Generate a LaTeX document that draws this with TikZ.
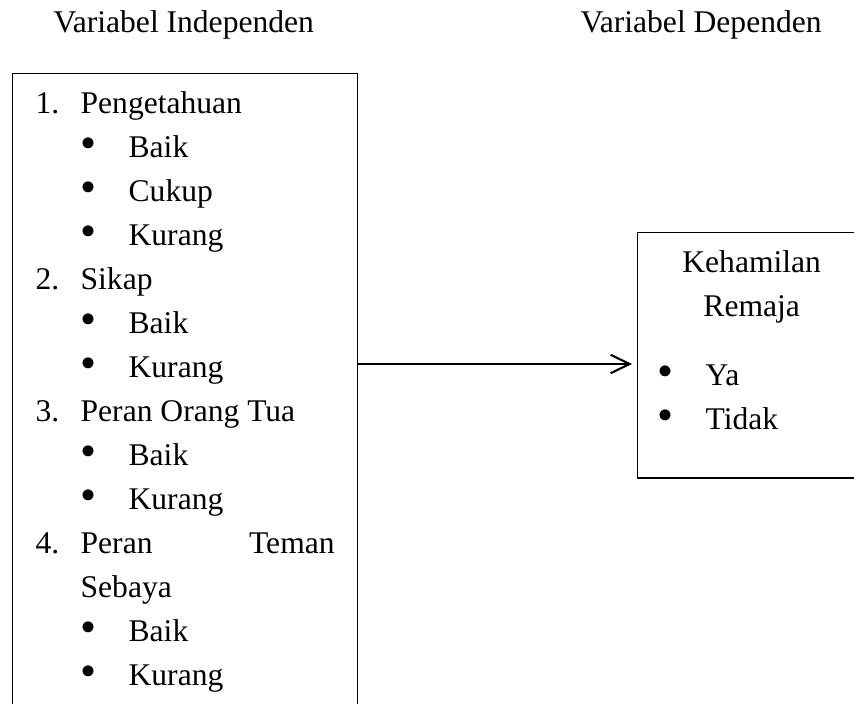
\documentclass[tikz,border=0pt]{standalone}
\usepackage{fontspec}
\setmainfont{Liberation Serif}
\usepackage{graphicx}
\usetikzlibrary{arrows.meta, positioning}

\newcommand{\blt}{\raisebox{-0.5pt}{\scalebox{1.45}{\textbullet}}}

\begin{document}
\begin{tikzpicture}[x=0.38pt, y=-0.38pt,
    >={Straight Barb[length=7.2pt, width=7pt]},
    every node/.style={font=\fontsize{12}{16.72}\selectfont},
    title/.style={anchor=base west, inner sep=0pt},
    varbox/.style={draw, line width=0.5pt, anchor=north west,
                   inner xsep=8.74pt, inner ysep=3.5pt}]
  \useasboundingbox (0,0) rectangle (854,704);
  \clip (0,0) rectangle (854,704);

  % Headings
  \node[title] (indeptitle) at (53,33) {Variabel Independen};
  \node[title] (deptitle) at (580,33) {Variabel Dependen};

  % Independent variables
  \node[varbox] (indep) at (12,73) {%
    \begin{tabular}{@{}p{17.1pt}@{}p{18.24pt}@{}p{78.3pt}@{}}
      1. & \multicolumn{2}{@{}l@{}}{Pengetahuan}\\
         & \blt & Baik\\
         & \blt & Cukup\\
         & \blt & Kurang\\
      2. & \multicolumn{2}{@{}l@{}}{Sikap}\\
         & \blt & Baik\\
         & \blt & Kurang\\
      3. & \multicolumn{2}{@{}l@{}}{Peran Orang Tua}\\
         & \blt & Baik\\
         & \blt & Kurang\\
      4. & \multicolumn{2}{@{}l@{}}{\makebox[96.5pt]{Peran\hfill Teman}}\\
         & \multicolumn{2}{@{}l@{}}{Sebaya}\\
         & \blt & Baik\\
         & \blt & Kurang
    \end{tabular}};

  % Dependent variable
  \node[varbox, inner xsep=7.6pt] (dep) at (637,232) {%
    \begin{tabular}{@{}p{18.24pt}@{}p{53.2pt}@{}}
      \multicolumn{2}{@{}c@{}}{Kehamilan}\\
      \multicolumn{2}{@{}c@{}}{Remaja}\\[9.5pt]
      \blt & Ya\\
      \blt & Tidak\\[9.9pt]
    \end{tabular}};

  % Arrow
  \coordinate (arrowlevel) at (0,364);
  \draw[->, line width=0.8pt, shorten >=1.9pt]
    (indep.east |- arrowlevel) -- (dep.west |- arrowlevel);
\end{tikzpicture}
\end{document}
